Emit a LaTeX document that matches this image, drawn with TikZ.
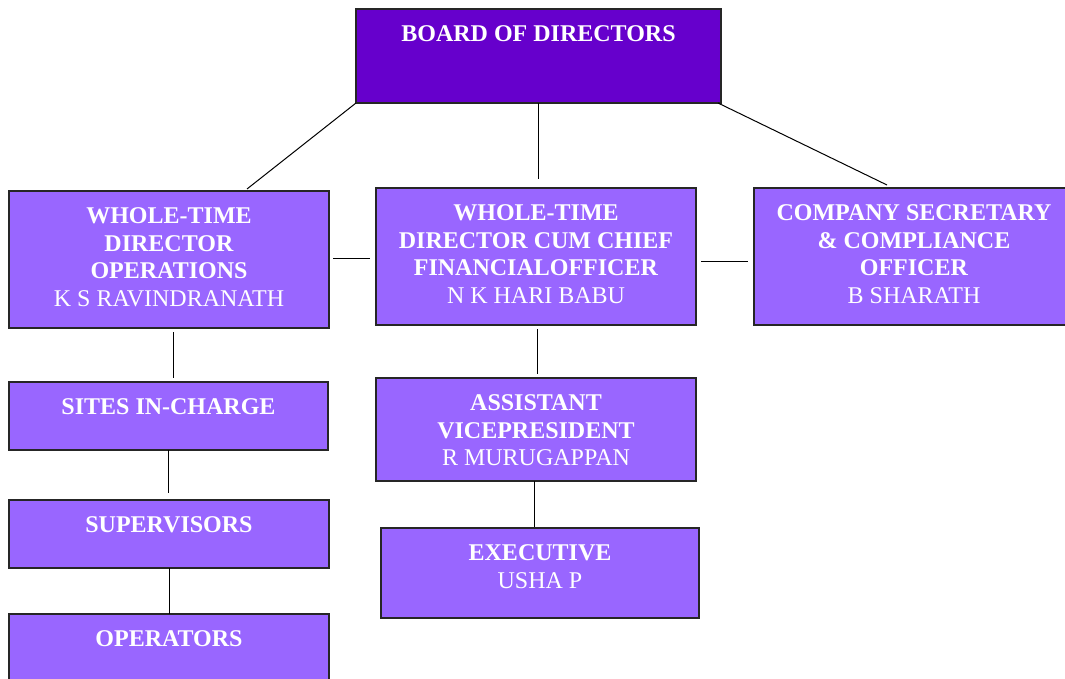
\documentclass[tikz,border=0pt]{standalone}
\usepackage{fontspec}
\setmainfont{Liberation Serif}
\definecolor{boardfill}{RGB}{102,0,204}
\definecolor{boxfill}{RGB}{153,102,255}
\begin{document}
\begin{tikzpicture}[x=1pt,y=-1pt,
  box/.style={rectangle,draw=black!85,line width=1.2pt,fill=boxfill,inner sep=0pt,outer sep=0pt,anchor=north west},
  txt/.style={text=white,align=center,inner sep=0pt,anchor=north,font=\fontsize{24}{27.6}\selectfont},
  link/.style={draw=black,line width=1pt}]
\useasboundingbox (0,0) rectangle (1065,679);
\clip (0,0) rectangle (1065,679);
% boxes
\node[box,fill=boardfill,minimum width=365pt,minimum height=94pt] (board) at (356,9) {};
\node[box,minimum width=320pt,minimum height=137pt] (ops) at (9,191) {};
\node[box,minimum width=320pt,minimum height=137pt] (cfo) at (376,188) {};
\node[box,minimum width=320pt,minimum height=137pt] (cs) at (754,188) {};
\node[box,minimum width=319pt,minimum height=68pt] (sites) at (9,382) {};
\node[box,minimum width=320pt,minimum height=68pt] (sup) at (9,500) {};
\node[box,minimum width=320pt,minimum height=68pt] (oper) at (9,614) {};
\node[box,minimum width=320pt,minimum height=103pt] (avp) at (376,378) {};
\node[box,minimum width=318pt,minimum height=90pt] (exec) at (381,528) {};
% texts
\node[txt] (boardT) at ([yshift=-16.5pt]board.north) {\textbf{BOARD OF DIRECTORS}};
\node[txt] (opsT) at ([yshift=-16.5pt]ops.north) {\textbf{WHOLE-TIME}\\\textbf{DIRECTOR}\\\textbf{OPERATIONS}\\K S RAVINDRANATH};
\node[txt] (cfoT) at ([yshift=-16.5pt]cfo.north) {\textbf{WHOLE-TIME}\\\textbf{DIRECTOR CUM CHIEF}\\\textbf{FINANCIALOFFICER}\\N K HARI BABU};
\node[txt] (csT) at ([yshift=-16.5pt]cs.north) {\textbf{COMPANY SECRETARY}\\\textbf{\& COMPLIANCE}\\\textbf{OFFICER}\\B SHARATH};
\node[txt] (sitesT) at ([yshift=-16.5pt]sites.north) {\textbf{SITES IN-CHARGE}};
\node[txt] (supT) at ([yshift=-16.5pt]sup.north) {\textbf{SUPERVISORS}};
\node[txt] (operT) at ([yshift=-16.5pt]oper.north) {\textbf{OPERATORS}};
\node[txt] (avpT) at ([yshift=-16.5pt]avp.north) {\textbf{ASSISTANT}\\\textbf{VICEPRESIDENT}\\R MURUGAPPAN};
\node[txt] (execT) at ([yshift=-16.5pt]exec.north) {\textbf{EXECUTIVE}\\USHA P};
% connectors
\draw[link] (board.south west) -- ([xshift=-82pt,yshift=2pt]ops.north east);
\draw[link] ([xshift=-3pt]board.south east) -- ([xshift=-187pt,yshift=3pt]cs.north east);
\draw[link,shorten >=9pt] ([xshift=-0.5pt]board.south) -- ([xshift=-0.5pt]board.south |- cfo.north);
\draw[link,shorten <=4pt,shorten >=6pt] ([yshift=-67pt]ops.north east) -- ([yshift=-67pt]ops.north east -| cfo.west);
\draw[link,shorten <=5pt,shorten >=6pt] ([yshift=-73pt]cfo.north east) -- ([yshift=-73pt]cfo.north east -| cs.west);
\draw[link,shorten <=4pt,shorten >=4pt] ([xshift=4pt]ops.south) -- ([xshift=4pt]ops.south |- sites.north);
\draw[link,shorten >=7pt] (sites.south) -- (sites.south |- sup.north);
\draw[link] (sup.south) -- (sup.south |- oper.north);
\draw[link,shorten <=4pt,shorten >=4pt] ([xshift=1pt]cfo.south) -- ([xshift=1pt]cfo.south |- avp.north);
\draw[link,shorten >=1pt] ([xshift=-1.5pt]avp.south) -- ([xshift=-1.5pt]avp.south |- exec.north);
\end{tikzpicture}
\end{document}
